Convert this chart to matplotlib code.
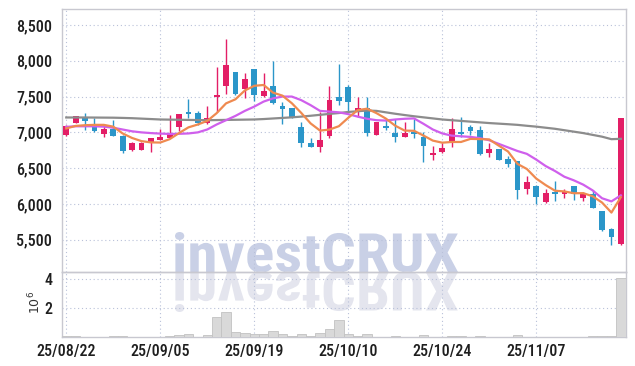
import matplotlib
matplotlib.use("Agg")
import matplotlib.pyplot as plt
from matplotlib.textpath import TextPath
from matplotlib.patches import PathPatch
from matplotlib.font_manager import FontProperties, fontManager
from matplotlib.transforms import Affine2D
import matplotlib.ticker as mticker

# pick a narrow face if one is installed
installed = {f.name for f in fontManager.ttflist}
FONT, FSIZE = "Liberation Sans", 9.8
for name, size in [("Roboto Condensed", 11.5), ("Liberation Sans Narrow", 11.5),
                   ("DejaVu Sans Condensed", 10)]:
    if name in installed:
        FONT, FSIZE = name, size
        break
plt.rcParams["font.family"] = [FONT, "DejaVu Sans"]
plt.rcParams["font.weight"] = "medium"

# daily OHLC
open_ = [6960, 7130, 7220, 7120, 6980, 7045, 6955, 6750, 6760, 6845,
         6900, 6925, 7080, 7280, 7265, 7125, 7490, 7650, 7840, 7600,
         7880, 7510, 7645, 7375, 7335, 7075, 6845, 6800, 6945, 7495,
         7630, 7300, 7335, 6970, 7090, 6985, 6940, 7005, 6935, 6685,
         6720, 6865, 7005, 7075, 7030, 6715, 6765, 6625, 6595, 6210,
         6245, 6030, 6165, 6140, 6245, 6085, 6145, 5895, 5645, 5440]
high = [7100, 7235, 7265, 7200, 7100, 7170, 6960, 6860, 6860, 6920,
        7050, 7245, 7260, 7470, 7300, 7370, 7910, 8300, 7850, 7830,
        7890, 7825, 8000, 7420, 7345, 7150, 6915, 7290, 7650, 7950,
        7660, 7490, 7490, 7145, 7185, 7185, 7150, 7185, 7000, 6810,
        6845, 7195, 7210, 7100, 7085, 6845, 6770, 6665, 6600, 6385,
        6260, 6210, 6315, 6215, 6250, 6165, 6190, 5900, 5665, 7195]
low = [6950, 7125, 7040, 7010, 6940, 6945, 6710, 6745, 6750, 6725,
       6890, 6920, 7020, 7195, 7105, 7110, 7290, 7535, 7520, 7475,
       7440, 7500, 7390, 7115, 7200, 6800, 6790, 6725, 6915, 7380,
       7290, 7215, 6945, 6960, 7030, 6865, 6930, 6915, 6590, 6610,
       6715, 6795, 6935, 6960, 6690, 6650, 6610, 6515, 6075, 6145,
       5995, 6020, 6035, 6090, 6050, 6035, 5940, 5625, 5430, 5430]
close = [7090, 7225, 7160, 7020, 7045, 6950, 6740, 6845, 6845, 6915,
         6935, 6985, 7255, 7250, 7125, 7195, 7515, 7940, 7535, 7740,
         7520, 7575, 7405, 7325, 7210, 6845, 6800, 6890, 7450, 7445,
         7430, 7335, 6995, 7140, 7065, 6930, 6995, 6980, 6810, 6710,
         6785, 7045, 6980, 7025, 6695, 6765, 6615, 6565, 6200, 6300,
         6095, 6160, 6140, 6180, 6140, 6135, 5945, 5630, 5535, 7195]

# volume in millions of shares
volume = [0.04, 0.04, 0.03, 0.03, 0.01, 0.04, 0.04, 0.01, 0.01, 0.01,
          0.03, 0.04, 0.15, 0.22, 0.03, 0.12, 1.35, 1.68, 0.32, 0.25,
          0.20, 0.20, 0.40, 0.20, 0.10, 0.18, 0.05, 0.27, 0.57, 1.15,
          0.20, 0.10, 0.20, 0.03, 0.03, 0.10, 0.03, 0.02, 0.15, 0.02,
          0.02, 0.10, 0.10, 0.03, 0.10, 0.02, 0.02, 0.02, 0.15, 0.03,
          0.02, 0.02, 0.01, 0.01, 0.03, 0.03, 0.04, 0.04, 0.04, 4.05]

# moving averages as drawn (5, 20 and long period)
ma_short = [7055, 7090, 7100, 7105, 7105, 7080, 6985, 6922, 6878, 6860,
            6858, 6905, 6990, 7070, 7110, 7160, 7268, 7405, 7462, 7585,
            7650, 7662, 7555, 7513, 7407, 7272, 7125, 7025, 7039, 7086,
            7203, 7310, 7331, 7269, 7193, 7093, 7025, 7022, 6956, 6885,
            6856, 6866, 6866, 6909, 6906, 6902, 6816, 6733, 6560, 6489,
            6355, 6264, 6185, 6175, 6150, 6151, 6108, 6020, 5880, 6095]
ma_mid = [7077, 7085, 7085, 7085, 7080, 7065, 7040, 7015, 7000, 6990,
          6983, 6978, 6980, 6985, 7000, 7040, 7110, 7170, 7230, 7300,
          7360, 7430, 7475, 7500, 7500, 7450, 7380, 7300, 7290, 7280,
          7255, 7220, 7190, 7170, 7165, 7180, 7190, 7195, 7120, 7040,
          6985, 6955, 6945, 6937, 6920, 6890, 6840, 6790, 6740, 6700,
          6620, 6530, 6460, 6380, 6330, 6270, 6190, 6080, 6036, 6120]
ma_long = [7208, 7208, 7208, 7207, 7206, 7205, 7202, 7198, 7192, 7186,
           7180, 7178, 7176, 7174, 7172, 7170, 7172, 7174, 7176, 7178,
           7180, 7186, 7194, 7202, 7210, 7220, 7232, 7245, 7258, 7270,
           7285, 7295, 7305, 7300, 7280, 7260, 7242, 7225, 7210, 7195,
           7180, 7170, 7160, 7150, 7140, 7130, 7122, 7114, 7105, 7092,
           7080, 7065, 7050, 7030, 7010, 6990, 6965, 6940, 6905, 6910]

tick_pos = [0, 10, 20, 30, 40, 50]
tick_labels = ["25/08/22", "25/09/05", "25/09/19", "25/10/10", "25/10/24", "25/11/07"]

UP = "#e31e66"
DOWN = "#2b96c9"
GRID = "#b9c1d9"
SPINE = "#c8c8d0"

fig = plt.figure(figsize=(6.35, 3.66), dpi=100)
ax = fig.add_axes([62/635, 94/366, 564/635, 263/366])
axv = fig.add_axes([62/635, 29/366, 564/635, 65/366], sharex=ax)
for a in (ax, axv):
    a.set_facecolor("none")
    for s in a.spines.values():
        s.set_color(SPINE)
        s.set_linewidth(1)
    a.grid(True, color=GRID, linestyle=(0, (1, 2.5)), linewidth=0.8)
    a.tick_params(length=0, labelsize=FSIZE, labelcolor="#1e1e1e")

x = list(range(len(close)))
colors = [UP if c >= o else DOWN for o, c in zip(open_, close)]
bottoms = [min(o, c) for o, c in zip(open_, close)]
heights = [max(abs(c - o), 14) for o, c in zip(open_, close)]

ax.vlines(x, low, high, colors=colors, linewidth=1, zorder=3)
ax.bar(x, heights, bottom=bottoms, width=0.62, color=colors, zorder=4)

ax.plot(x, ma_long, color="#8c8c8c", linewidth=1.6, zorder=5)
ax.plot(x, ma_mid, color="#cf5fec", linewidth=1.6, zorder=5)
ax.plot(x, ma_short, color="#ef8a50", linewidth=1.6, zorder=5)

ax.set_xlim(-0.45, 59.55)
ax.set_ylim(5050, 8723)
ax.set_yticks([5500, 6000, 6500, 7000, 7500, 8000, 8500])
ax.yaxis.set_major_formatter(mticker.StrMethodFormatter("{x:,.0f}"))
ax.tick_params(axis="y", pad=7)
ax.tick_params(axis="x", labelbottom=False)

axv.bar(x, volume, width=1.0, color="#d9d9d9", edgecolor="#c2c2c2", linewidth=0.6, zorder=3)
axv.set_ylim(0, 4.45)
axv.set_yticks([2, 4])
axv.set_xticks(tick_pos)
axv.set_xticklabels(tick_labels)
axv.tick_params(axis="y", pad=7)
axv.tick_params(axis="x", pad=5)
fig.text(35/635, 1 - 302/366, r"$10^6$", rotation=90, ha="center", va="center",
         fontsize=9, color="#333", family="DejaVu Serif")

# watermark with its reflection over the volume pane, fitted to 283 x 40 px
fp = FontProperties(family=FONT, weight="bold")
tp = TextPath((0, 0), "investCRUX", size=50, prop=fp)
ext = tp.get_extents()
sx = 283 / ext.width
sy = 40 / ext.y1
wm = PathPatch(tp, facecolor="#c9d0e6", edgecolor="none", zorder=-1,
               transform=Affine2D().translate(-ext.x0, 0).scale(sx, sy).translate(175, 94))
refl = PathPatch(tp, facecolor="#e4e5ee", edgecolor="none", zorder=-1,
                 transform=Affine2D().translate(-ext.x0, 0).scale(sx, -sy).translate(175, 94))
fig.add_artist(wm)
fig.add_artist(refl)

fig.savefig("out.png", dpi=100, facecolor="white")
